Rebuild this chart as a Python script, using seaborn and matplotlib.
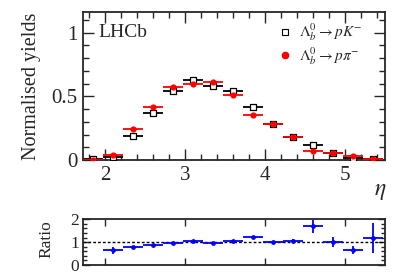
import numpy as np
import pandas as pd
import seaborn as sns
import matplotlib.pyplot as plt
from matplotlib.ticker import MultipleLocator
from matplotlib.lines import Line2D

# bin centres in eta (bin width 0.25)
eta = [1.85, 2.1, 2.35, 2.6, 2.85, 3.1, 3.35, 3.6, 3.85, 4.1, 4.35, 4.6, 4.85, 5.1, 5.35]
yield_pk = [0.005, 0.024, 0.187, 0.369, 0.545, 0.629, 0.577, 0.545, 0.420, 0.283, 0.182, 0.117, 0.052, 0.020, 0.008]
yield_ppi = [0.003, 0.040, 0.247, 0.420, 0.571, 0.597, 0.613, 0.512, 0.351, 0.283, 0.179, 0.073, 0.052, 0.031, 0.008]

eta_ratio = [2.1, 2.35, 2.6, 2.85, 3.1, 3.35, 3.6, 3.85, 4.1, 4.35, 4.6, 4.85, 5.1, 5.35]
ratio = [0.64, 0.78, 0.88, 0.96, 1.06, 0.96, 1.07, 1.22, 1.01, 1.06, 1.69, 1.01, 0.64, 1.19]
ratio_err = [0.14, 0.05, 0.05, 0.04, 0.04, 0.04, 0.04, 0.05, 0.05, 0.07, 0.28, 0.22, 0.17, 0.67]

half_bin = 0.125

sns.set_theme(style='ticks')
plt.rcParams['font.family'] = ['Liberation Serif', 'DejaVu Serif']
plt.rcParams['mathtext.fontset'] = 'stix'
plt.rcParams['xtick.direction'] = 'in'
plt.rcParams['ytick.direction'] = 'in'

fig = plt.figure(figsize=(4.07, 2.76), dpi=100)
ax = fig.add_axes([0.204, 0.42, 0.742, 0.536])
axr = fig.add_axes([0.204, 0.04, 0.742, 0.167])

df = pd.DataFrame({'eta': eta, 'pK': yield_pk, 'ppi': yield_ppi})

ax.errorbar(df['eta'], df['pK'], xerr=half_bin, fmt='none', ecolor='black', elinewidth=1.3, zorder=2)
sns.scatterplot(data=df, x='eta', y='pK', ax=ax, marker='s', s=17, facecolor='white',
                edgecolor='black', linewidth=0.9, zorder=3)
ax.errorbar(df['eta'], df['ppi'], xerr=half_bin, fmt='none', ecolor='red', elinewidth=1.3, zorder=4)
sns.scatterplot(data=df, x='eta', y='ppi', ax=ax, marker='o', s=20, color='red',
                edgecolor='red', linewidth=0, zorder=5)

ax.set_xlim(1.725, 5.5)
ax.set_ylim(0, 1.16)
ax.xaxis.set_major_locator(MultipleLocator(1))
ax.xaxis.set_minor_locator(MultipleLocator(0.2))
ax.yaxis.set_minor_locator(MultipleLocator(0.1))
ax.set_yticks([0, 0.5, 1])
ax.set_yticklabels(['0', '0.5', '1'])
ax.tick_params(which='both', top=True, right=True, labelsize=15, width=1, pad=4)
ax.tick_params(which='major', length=8)
ax.tick_params(which='minor', length=4)
ax.set_xlabel('')
ax.set_ylabel('Normalised yields', fontsize=14.5)
ax.yaxis.set_label_coords(-0.14, 0.5)
for s in ax.spines.values():
    s.set_linewidth(1.3)

ax.text(0.05, 0.83, 'LHCb', transform=ax.transAxes, fontsize=14)
fig.text(0.935, 0.295, r'$\eta$', fontsize=17, ha='center')

handles = [
    Line2D([], [], marker='s', linestyle='none', markerfacecolor='white',
           markeredgecolor='black', markersize=4, markeredgewidth=0.8),
    Line2D([], [], marker='o', linestyle='none', color='red', markersize=4.5),
]
labels = [r'$\mathit{\Lambda}_b^{\mathit{0}} \rightarrow pK^{-}$',
          r'$\mathit{\Lambda}_b^{\mathit{0}} \rightarrow p\pi^{-}$']
ax.legend(handles, labels, loc='upper right', bbox_to_anchor=(0.945, 0.975), frameon=False,
          fontsize=11, handletextpad=0.4, handlelength=1.0, borderaxespad=0, labelspacing=0.15)

# ratio panel
dfr = pd.DataFrame({'eta': eta_ratio, 'ratio': ratio, 'err': ratio_err})
axr.axhline(1, color='black', linestyle=(0, (2, 1.5)), linewidth=1)
axr.errorbar(dfr['eta'], dfr['ratio'], xerr=half_bin, yerr=dfr['err'], fmt='none',
             ecolor='blue', elinewidth=1.3)
sns.scatterplot(data=dfr, x='eta', y='ratio', ax=axr, marker='o', s=12, color='blue',
                linewidth=0, zorder=3)
axr.set_xlim(1.725, 5.5)
axr.set_ylim(0, 2.02)
axr.xaxis.set_major_locator(MultipleLocator(1))
axr.yaxis.set_major_locator(MultipleLocator(1))
axr.yaxis.set_minor_locator(MultipleLocator(0.2))
axr.tick_params(which='both', top=True, right=True, labelsize=12.5, width=1,
                labelbottom=False, pad=3)
axr.tick_params(which='major', length=5)
axr.tick_params(which='minor', length=3)
axr.tick_params(axis='x', which='minor', bottom=False, top=False)
axr.set_xlabel('')
axr.set_ylabel('Ratio', fontsize=12.5)
axr.yaxis.set_label_coords(-0.095, 0.55)
for s in axr.spines.values():
    s.set_linewidth(1.3)

fig.savefig('out.png', dpi=100)
